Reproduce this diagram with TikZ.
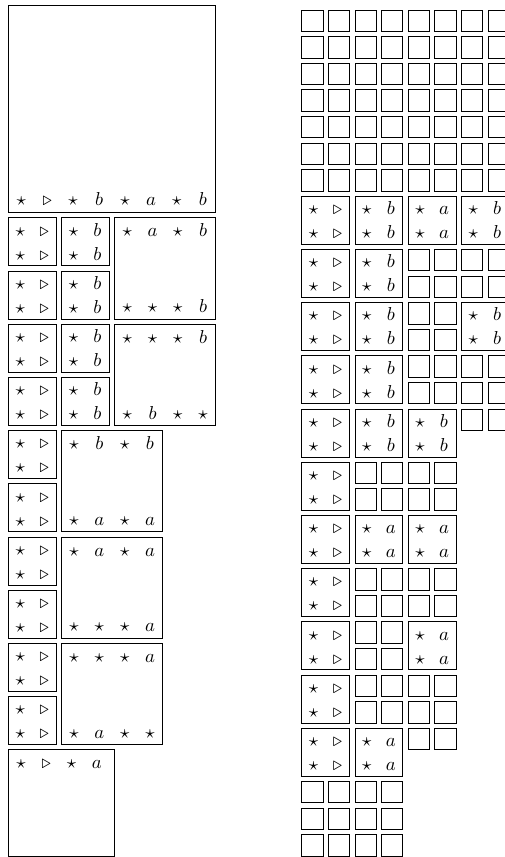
\documentclass[tikz,border=0pt]{standalone}
\usetikzlibrary{calc}
\def\U{0.5348pt}
\def\P{26.6}
\def\G{5.32}
\def\LX{8.3}
\def\LY{5}
\def\RX{301.7}
\def\RY{10}
\tikzset{
  cellbox/.style={draw, line width=0.4pt, anchor=north west, inner sep=0pt, outer sep=0pt},
  glyphnode/.style={anchor=base, inner sep=0pt, outer sep=0pt}
}
% square box of n cells
\newcommand{\mkbox}[6]{%
  \node[cellbox, minimum size={(#6*\P-\G)*\U}] (#1) at ({#2+#4*\P},{#3+#5*\P}) {};}
% one line of glyphs spread over slots
\newcommand{\gline}[7]{%
  \foreach \g [count=\i from 0] in {#7} {
    \path let \p1=(#2), \p2=(#3) in
      node[glyphnode] (#1-#4-\i) at ({\x1+(\i+0.5)*(\x2-\x1)/#6},{\y1+(#4+0.5)*(\y2-\y1)/#5-3.4pt}) {$\g$};
  }}
\newcommand{\gl}[5]{\gline{#1}{#1.north west}{#1.south east}{#2}{#3}{#4}{#5}}
\newcommand{\sq}[2]{\mkbox{S#1-#2}{\RX}{\RY}{#2}{#1}{1}}
\begin{document}
\begin{tikzpicture}[x=0.5348pt, y=-0.5348pt]
\useasboundingbox (0,0) rectangle (505,857);
\clip (0,0) rectangle (505,857);
% ---------------- left column ----------------
\mkbox{L0}{\LX}{\LY}{0}{0}{8}
\gl{L0}{7}{8}{8}{\star,\triangleright,\star,b,\star,a,\star,b}
\foreach \r in {8,10,...,26} {
  \mkbox{LA\r}{\LX}{\LY}{0}{\r}{2}
  \gl{LA\r}{0}{2}{2}{\star,\triangleright}
  \gl{LA\r}{1}{2}{2}{\star,\triangleright}
}
\foreach \r in {8,10,12,14} {
  \mkbox{LB\r}{\LX}{\LY}{2}{\r}{2}
  \gl{LB\r}{0}{2}{2}{\star,b}
  \gl{LB\r}{1}{2}{2}{\star,b}
}
\mkbox{LC8}{\LX}{\LY}{4}{8}{4}
\gl{LC8}{0}{4}{4}{\star,a,\star,b}
\gl{LC8}{3}{4}{4}{\star,\star,\star,b}
\mkbox{LC12}{\LX}{\LY}{4}{12}{4}
\gl{LC12}{0}{4}{4}{\star,\star,\star,b}
\gl{LC12}{3}{4}{4}{\star,b,\star,\star}
\mkbox{LD16}{\LX}{\LY}{2}{16}{4}
\gl{LD16}{0}{4}{4}{\star,b,\star,b}
\gl{LD16}{3}{4}{4}{\star,a,\star,a}
\mkbox{LD20}{\LX}{\LY}{2}{20}{4}
\gl{LD20}{0}{4}{4}{\star,a,\star,a}
\gl{LD20}{3}{4}{4}{\star,\star,\star,a}
\mkbox{LD24}{\LX}{\LY}{2}{24}{4}
\gl{LD24}{0}{4}{4}{\star,\star,\star,a}
\gl{LD24}{3}{4}{4}{\star,a,\star,\star}
\node[cellbox, minimum size={4*\P*\U}] (LE) at ({\LX},{\LY+28*\P}) {};
\coordinate (LEtxt) at ({\LX+4*\P-\G},{\LY+32*\P-\G});
\gline{LE}{LE.north west}{LEtxt}{0}{4}{4}{\star,\triangleright,\star,a}
% ---------------- right grid ----------------
\foreach \r in {0,...,6} \foreach \c in {0,...,7} {\sq{\r}{\c}}
\foreach \r in {7,9,...,27} {
  \mkbox{RA\r}{\RX}{\RY}{0}{\r}{2}
  \gl{RA\r}{0}{2}{2}{\star,\triangleright}
  \gl{RA\r}{1}{2}{2}{\star,\triangleright}
}
\foreach \r/\c in {7/2,9/2,11/2,13/2,15/2,7/6,11/6,15/4} {
  \mkbox{RB\r-\c}{\RX}{\RY}{\c}{\r}{2}
  \gl{RB\r-\c}{0}{2}{2}{\star,b}
  \gl{RB\r-\c}{1}{2}{2}{\star,b}
}
\foreach \r/\c in {7/4,19/2,19/4,23/4,27/2} {
  \mkbox{RC\r-\c}{\RX}{\RY}{\c}{\r}{2}
  \gl{RC\r-\c}{0}{2}{2}{\star,a}
  \gl{RC\r-\c}{1}{2}{2}{\star,a}
}
\foreach \r in {9,10,13,14} \foreach \c in {4,...,7} {\sq{\r}{\c}}
\foreach \r in {11,12} \foreach \c in {4,5} {\sq{\r}{\c}}
\foreach \c in {6,7} {\sq{15}{\c}}
\foreach \r in {17,18,21,22,25,26} \foreach \c in {2,...,5} {\sq{\r}{\c}}
\foreach \r in {23,24} \foreach \c in {2,3} {\sq{\r}{\c}}
\foreach \c in {4,5} {\sq{27}{\c}}
\foreach \r in {29,30,31} \foreach \c in {0,...,3} {\sq{\r}{\c}}
\end{tikzpicture}
\end{document}
